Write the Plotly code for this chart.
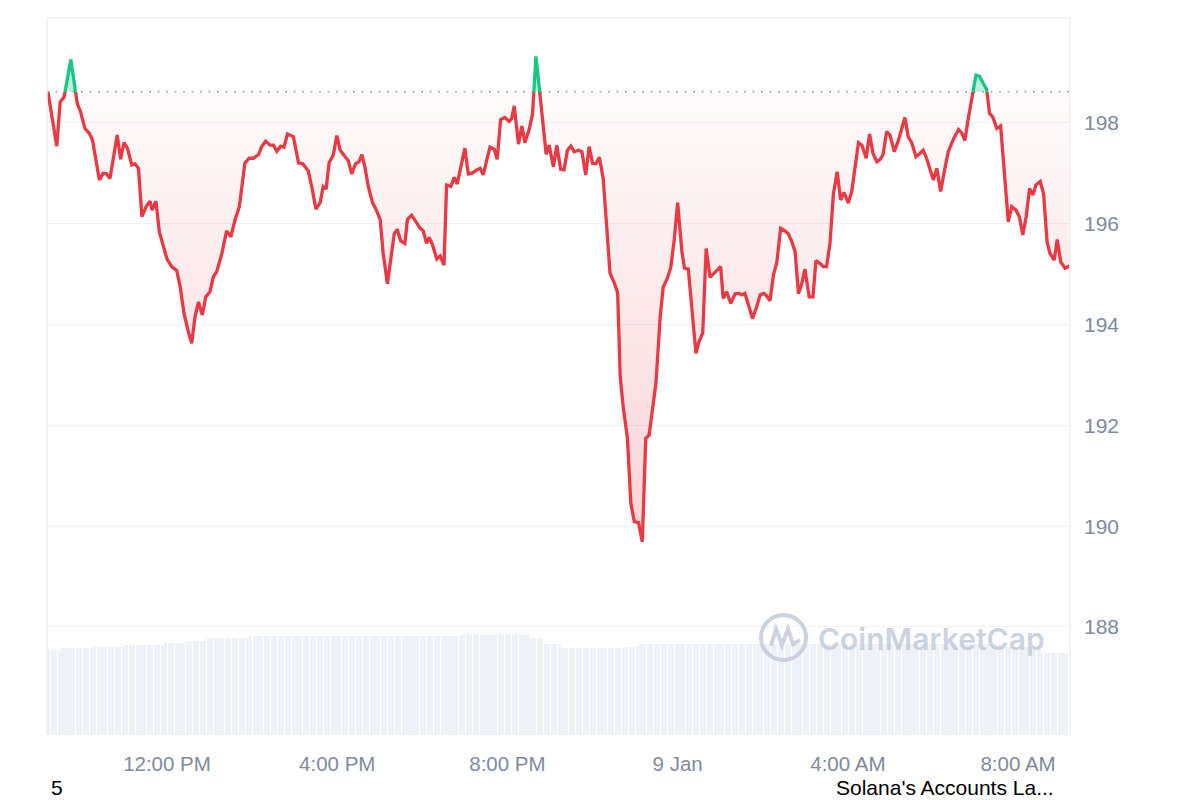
import numpy as np
import pandas as pd
import plotly.graph_objects as go

# ---------------- data ----------------
# hours since 2025-01-08 00:00
hours = [
    9.20, 9.41, 9.49, 9.58, 9.74, 9.89, 9.97, 10.07, 10.17, 10.25, 10.41, 10.50, 10.58, 10.66,
    10.83, 10.91, 10.99, 11.07, 11.17, 11.25, 11.33, 11.41, 11.51, 11.60, 11.65, 11.74, 11.82,
    11.91, 12.00, 12.11, 12.23, 12.31, 12.40, 12.50, 12.58, 12.66, 12.74, 12.83, 12.91, 13.01,
    13.09, 13.17, 13.29, 13.40, 13.50, 13.60, 13.70, 13.83, 13.93, 14.03, 14.15, 14.23, 14.32,
    14.42, 14.50, 14.58, 14.67, 14.75, 14.83, 14.97, 15.09, 15.19, 15.32, 15.40, 15.50, 15.60,
    15.67, 15.74, 15.81, 15.91, 15.99, 16.07, 16.16, 16.26, 16.34, 16.43, 16.51, 16.58, 16.65,
    16.73, 16.83, 16.91, 17.01, 17.08, 17.18, 17.28, 17.34, 17.41, 17.49, 17.59, 17.65, 17.75,
    17.84, 17.95, 18.02, 18.10, 18.16, 18.24, 18.34, 18.42, 18.51, 18.57, 18.67, 18.75, 18.82,
    19.00, 19.08, 19.18, 19.28, 19.36, 19.43, 19.59, 19.69, 19.76, 19.84, 19.94, 20.04, 20.10,
    20.16, 20.26, 20.34, 20.41, 20.51, 20.59, 20.67, 20.81, 20.91, 20.98, 21.08, 21.16, 21.25,
    21.33, 21.41, 21.49, 21.57, 21.67, 21.75, 21.84, 21.92, 22.00, 22.08, 22.16, 22.25, 22.33,
    22.41, 22.51, 22.59, 22.65, 22.72, 22.82, 22.90, 22.98, 23.08, 23.17, 23.25, 23.33, 23.41,
    23.49, 23.59, 23.66, 23.76, 23.84, 23.92, 24.00, 24.10, 24.16, 24.25, 24.35, 24.43, 24.50,
    24.59, 24.67, 24.76, 24.86, 24.92, 25.01, 25.07, 25.15, 25.25, 25.35, 25.44, 25.51, 25.58,
    25.66, 25.76, 25.86, 25.94, 26.03, 26.09, 26.17, 26.25, 26.33, 26.42, 26.52, 26.60, 26.68,
    26.76, 26.84, 26.92, 26.99, 27.09, 27.18, 27.25, 27.36, 27.42, 27.50, 27.58, 27.66, 27.75,
    27.83, 27.91, 28.01, 28.09, 28.25, 28.33, 28.43, 28.51, 28.59, 28.68, 28.76, 28.83, 28.91,
    28.99, 29.09, 29.19, 29.34, 29.42, 29.50, 29.60, 29.70, 29.77, 29.85, 29.93, 30.01, 30.09,
    30.18, 30.28, 30.36, 30.48, 30.60, 30.68, 30.75, 30.83, 31.01, 31.09, 31.26, 31.33, 31.41,
    31.50, 31.59, 31.66, 31.72, 31.77, 31.85, 31.95, 32.03, 32.11, 32.19, 32.27, 32.35, 32.42,
    32.52, 32.60, 32.68, 32.75, 32.85, 32.92, 33.00, 33.10, 33.21,
]
prices = [
    198.62, 197.54, 198.42, 198.51, 199.26, 198.39, 198.22, 197.89, 197.80, 197.66, 196.87, 197.00, 196.99, 196.90,
    197.76, 197.28, 197.61, 197.50, 197.17, 197.19, 197.10, 196.14, 196.34, 196.45, 196.27, 196.45, 195.84,
    195.58, 195.30, 195.15, 195.07, 194.75, 194.22, 193.86, 193.63, 194.16, 194.45, 194.19, 194.55, 194.65,
    194.95, 195.05, 195.41, 195.86, 195.74, 196.08, 196.34, 197.20, 197.30, 197.30, 197.37, 197.54, 197.64,
    197.56, 197.56, 197.44, 197.54, 197.52, 197.78, 197.73, 197.21, 197.19, 197.05, 196.74, 196.29, 196.42,
    196.74, 196.69, 197.21, 197.37, 197.75, 197.46, 197.37, 197.25, 196.99, 197.19, 197.23, 197.37, 197.13,
    196.74, 196.42, 196.29, 196.08, 195.41, 194.81, 195.41, 195.80, 195.89, 195.66, 195.61, 196.09, 196.17,
    196.04, 195.91, 195.86, 195.61, 195.73, 195.58, 195.30, 195.36, 195.18, 196.77, 196.74, 196.92, 196.79,
    197.50, 196.99, 197.01, 197.07, 197.10, 196.97, 197.52, 197.48, 197.28, 198.07, 198.11, 198.03, 198.09,
    198.34, 197.58, 197.94, 197.61, 197.87, 198.18, 199.32, 198.20, 197.38, 197.56, 197.13, 197.56, 197.08,
    197.07, 197.46, 197.54, 197.43, 197.46, 197.43, 196.97, 197.53, 197.20, 197.19, 197.32, 196.90, 195.98,
    195.02, 194.83, 194.63, 192.97, 192.37, 191.74, 190.45, 190.09, 190.07, 189.69, 191.74, 191.81, 192.37,
    192.84, 194.16, 194.74, 194.92, 195.14, 195.68, 196.42, 195.45, 195.12, 195.10, 194.16, 193.43, 193.66,
    193.83, 195.51, 194.94, 195.02, 195.08, 195.15, 194.52, 194.65, 194.42, 194.61, 194.62, 194.59, 194.62,
    194.42, 194.12, 194.36, 194.59, 194.62, 194.57, 194.47, 194.98, 195.23, 195.91, 195.86, 195.80, 195.65,
    195.45, 194.61, 194.82, 195.10, 194.55, 194.55, 195.27, 195.20, 195.15, 195.15, 195.61, 196.59, 197.03,
    196.47, 196.62, 196.41, 196.64, 197.61, 197.56, 197.30, 197.78, 197.40, 197.23, 197.28, 197.38, 197.83,
    197.76, 197.43, 197.66, 198.11, 197.72, 197.61, 197.33, 197.40, 197.46, 197.30, 197.10, 196.87, 197.10,
    196.64, 197.10, 197.43, 197.68, 197.87, 197.80, 197.65, 198.09, 198.95, 198.93, 198.67, 198.19, 198.11,
    197.89, 197.94, 197.13, 196.54, 196.04, 196.34, 196.27, 196.14, 195.78, 196.14, 196.70, 196.57, 196.77,
    196.84, 196.59, 195.65, 195.41, 195.28, 195.69, 195.25, 195.12, 195.16,
]

# volume (billions USD), step levels, with the hour each level starts
vol_start_hours = [9.18, 9.53, 10.24, 11.01, 11.95, 12.42, 12.96, 13.95, 18.93, 20.53, 20.88,
                   21.24, 22.76, 23.12, 31.58, 32.52]
vol_levels = [3.53, 3.60, 3.67, 3.74, 3.84, 3.91, 4.02, 4.12, 4.20, 4.03, 3.78,
              3.60, 3.67, 3.78, 3.66, 3.39]

tick_hours = [12, 16, 20, 24, 28, 32]
tick_labels = ["12:00 PM", "4:00 PM", "8:00 PM", "9 Jan", "4:00 AM", "8:00 AM"]
y_ticks = [188, 190, 192, 194, 196, 198]

day0 = pd.Timestamp("2025-01-08")
def to_time(h):
    return day0 + pd.to_timedelta(np.asarray(h, dtype=float), unit="h")

RED = "#ea3943"
GREEN = "#16c784"
GREY_TXT = "#808a9d"

base = prices[0]
h = np.array(hours, dtype=float)
p = np.array(prices, dtype=float)

# insert baseline crossings so the colour switch happens exactly on the baseline
ah, ap = [h[0]], [p[0]]
for i in range(1, len(h)):
    d0, d1 = p[i - 1] - base, p[i] - base
    if d0 * d1 < 0:
        f = d0 / (d0 - d1)
        ah.append(h[i - 1] + f * (h[i] - h[i - 1]))
        ap.append(base)
    ah.append(h[i]); ap.append(p[i])
ah = np.array(ah); ap = np.array(ap)
t_aug = to_time(ah)

red_y = np.where(ap <= base, ap, np.nan)
green_y = np.where(ap >= base, ap, np.nan)
low_fill = np.minimum(ap, base)
high_fill = np.maximum(ap, base)

# volume bars (5-minute candles)
bar_h = np.arange(9.18 + 2.5 / 60, 33.22, 5 / 60)
idx = np.searchsorted(np.array(vol_start_hours), bar_h, side="right") - 1
bar_v = np.array(vol_levels)[idx]

fig = go.Figure()

fig.add_trace(go.Bar(x=to_time(bar_h), y=bar_v, yaxis="y2",
                     marker=dict(color="#eef1f5", line=dict(width=0)),
                     width=5 * 60 * 1000 * 0.88, hoverinfo="skip", showlegend=False))

# baseline for fills
fig.add_trace(go.Scatter(x=t_aug, y=np.full(len(ah), base), mode="lines",
                         line=dict(width=0), hoverinfo="skip", showlegend=False))
fig.add_trace(go.Scatter(x=t_aug, y=low_fill, mode="lines", line=dict(width=0),
                         fill="tonexty",
                         fillgradient=dict(type="vertical", start=189.5, stop=base,
                                           colorscale=[[0, "rgba(234,57,67,0.22)"],
                                                       [1, "rgba(234,57,67,0.02)"]]),
                         hoverinfo="skip", showlegend=False))
fig.add_trace(go.Scatter(x=t_aug, y=np.full(len(ah), base), mode="lines",
                         line=dict(width=0), hoverinfo="skip", showlegend=False))
fig.add_trace(go.Scatter(x=t_aug, y=high_fill, mode="lines", line=dict(width=0),
                         fill="tonexty", fillcolor="rgba(22,199,132,0.28)",
                         hoverinfo="skip", showlegend=False))

# dotted reference line at the opening price
fig.add_trace(go.Scatter(x=to_time([9.18, 33.22]), y=[base, base], mode="lines",
                         line=dict(color="#9aa1ad", width=1.6, dash="2px,6.5px"),
                         hoverinfo="skip", showlegend=False))

fig.add_trace(go.Scatter(x=t_aug, y=red_y, mode="lines",
                         line=dict(color=RED, width=3.3), connectgaps=False, showlegend=False))
fig.add_trace(go.Scatter(x=t_aug, y=green_y, mode="lines",
                         line=dict(color=GREEN, width=3.3), connectgaps=False, showlegend=False))

L, R, T, B = 47, 130, 18, 65
PW, PH = 1200 - L - R, 800 - T - B
def px(xp): return (xp - L) / PW
def py(yp): return (800 - B - yp) / PH

shapes = [
    dict(type="line", xref="paper", yref="paper", x0=0, x1=1, y0=1, y1=1,
         line=dict(color="#eceff2", width=1.5)),
    dict(type="line", xref="paper", yref="paper", x0=0, x1=0, y0=0, y1=1,
         line=dict(color="#eceff2", width=1.5)),
    dict(type="line", xref="paper", yref="paper", x0=1, x1=1, y0=0, y1=1,
         line=dict(color="#eceff2", width=1.5)),
    # watermark logo ring
    dict(type="circle", xref="paper", yref="paper", x0=px(761), x1=px(806),
         y0=py(660), y1=py(615), line=dict(color="rgba(190,199,216,0.8)", width=4),
         layer="above"),
    dict(type="path", xref="paper", yref="paper", layer="above",
         path=(f"M {px(771)},{py(646)} L {px(776)},{py(629)} L {px(782)},{py(645)} "
               f"L {px(788)},{py(629)} L {px(793)},{py(644)} L {px(800)},{py(640)}"),
         line=dict(color="rgba(190,199,216,0.8)", width=4)),
]

annotations = [
    dict(text="CoinMarketCap", xref="paper", yref="paper", x=px(931), y=py(639),
         showarrow=False, xanchor="center", yanchor="middle",
         font=dict(family="Inter", size=30, color="rgba(190,199,216,0.8)", weight=600)),
    dict(text="5", xref="paper", yref="paper", x=px(50), y=py(800), borderpad=0,
         showarrow=False, xanchor="left", yanchor="bottom",
         font=dict(family="Liberation Sans, Arial", size=21, color="#000000")),
    dict(text="Solana's Accounts La...", xref="paper", yref="paper", x=px(1055), y=py(800),
         borderpad=0, showarrow=False, xanchor="right", yanchor="bottom",
         font=dict(family="Liberation Sans, Arial", size=21, color="#000000")),
]

fig.update_layout(
    width=1200, height=800,
    margin=dict(l=L, r=R, t=T, b=B),
    paper_bgcolor="white", plot_bgcolor="white",
    showlegend=False, bargap=0,
    xaxis=dict(range=to_time([9.18, 33.22]), tickvals=to_time(tick_hours), ticktext=tick_labels,
               showgrid=False, zeroline=False, showline=False, ticks="",
               ticklabelstandoff=14,
               tickfont=dict(family="Liberation Sans, Arial", size=20.5, color=GREY_TXT)),
    yaxis=dict(range=[185.857, 200.083], side="right", tickvals=y_ticks,
               showgrid=True, gridcolor="#eff2f5", gridwidth=1, zeroline=False,
               showline=False, ticks="", ticklabelstandoff=13,
               tickfont=dict(family="Liberation Sans, Arial", size=21, color=GREY_TXT)),
    yaxis2=dict(range=[0, 29.8], overlaying="y", visible=False),
    shapes=shapes, annotations=annotations,
)

fig.write_html("out.html", config={"displayModeBar": False},
               post_script="document.body.style.margin='0';document.body.style.overflow='hidden';")
